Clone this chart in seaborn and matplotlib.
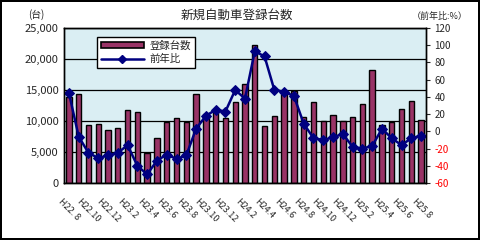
import numpy as np
import pandas as pd
import matplotlib
matplotlib.use("Agg")
import matplotlib.pyplot as plt
from matplotlib.patches import Patch
from matplotlib.lines import Line2D
import seaborn as sns

# 月 (H22.8 - H25.8)
months = ["H22. 8", "H22.9", "H22.10", "H22.11", "H22.12",
          "H23.1", "H23.2", "H23.3", "H23.4", "H23.5", "H23.6", "H23.7",
          "H23.8", "H23.9", "H23.10", "H23.11", "H23.12",
          "H24.1", "H24.2", "H24.3", "H24.4", "H24.5", "H24.6", "H24.7",
          "H24.8", "H24.9", "H24.10", "H24.11", "H24.12",
          "H25.1", "H25.2", "H25.3", "H25.4", "H25.5", "H25.6", "H25.7", "H25.8"]

# 登録台数
counts = [13900, 14300, 9400, 9500, 8600, 8900, 11700, 11500, 4800, 7300,
          9800, 10500, 9800, 14400, 11200, 11700, 10500, 13000, 16000, 22200,
          9200, 10800, 14400, 14800, 10600, 13100, 10000, 10900, 10000, 10600,
          12700, 18300, 9300, 9800, 11900, 13200, 10100]

# 前年比 (%)
yoy = [45, -6, -25, -31, -28, -25, -16, -40, -50, -34,
       -27, -32, -28, 3, 18, 25, 23, 48, 38, 93,
       87, 48, 46, 41, 9, -8, -10, -7, -3, -18,
       -20, -17, 3, -8, -16, -8, -5]

left_ticks = [0, 5000, 10000, 15000, 20000, 25000]
right_ticks = [-60, -40, -20, 0, 20, 40, 60, 80, 100, 120]

df = pd.DataFrame({"month": months, "count": counts, "yoy": yoy})

sns.set_style("white")
plt.rcParams["font.family"] = ["Noto Sans CJK JP", "DejaVu Sans"]

bar_color = "#993366"
line_color = "#000080"
bg_color = "#DAEEF3"

fig = plt.figure(figsize=(4.8, 2.4), dpi=100, edgecolor="black", linewidth=1.5)
ax = fig.add_axes([0.1333, 0.2375, 0.7542, 0.6458])
ax.set_facecolor(bg_color)

sns.barplot(data=df, x="month", y="count", ax=ax, color=bar_color,
            saturation=1, width=0.55, edgecolor="black", linewidth=1)
ax.set_axisbelow(True)
ax.yaxis.grid(True, color="black", linewidth=0.9)
ax.set_ylim(0, 25000)
ax.set_xlim(-0.5, len(months) - 0.5)
ax.set_yticks(left_ticks)
ax.set_yticklabels([f"{v:,}" for v in left_ticks], fontsize=8)
ax.set_xticks(range(len(months)))
ax.set_xticklabels([m if i % 2 == 0 else "" for i, m in enumerate(months)],
                   rotation=-45, ha="center", va="top", fontsize=6.5)
ax.tick_params(axis="x", length=3, width=0.8, pad=7)
ax.tick_params(axis="y", length=0, pad=4)
ax.set_xlabel("")
ax.set_ylabel("")

ax2 = ax.twinx()
sns.lineplot(data=df, x="month", y="yoy", ax=ax2, color=line_color,
             marker="D", markersize=5, markeredgecolor=line_color,
             linewidth=1.8, sort=False)
ax2.set_ylim(-60, 120)
ax2.set_yticks(right_ticks)
ax2.set_yticklabels([str(v) for v in right_ticks], fontsize=7)
for lab, v in zip(ax2.get_yticklabels(), right_ticks):
    if v < 0:
        lab.set_color("red")
ax2.tick_params(axis="y", length=3, width=0.8, pad=3)
ax2.set_ylabel("")

for a in (ax, ax2):
    for s in a.spines.values():
        s.set_color("black")
        s.set_linewidth(1)

handles = [Patch(facecolor=bar_color, edgecolor="black", linewidth=1.2),
           Line2D([], [], color=line_color, marker="D", markersize=4, linewidth=1.8)]
leg = ax2.legend(handles, ["登録台数", "前年比"], loc="upper left",
                 bbox_to_anchor=(0.202, 0.846), bbox_transform=fig.transFigure,
                 borderaxespad=0, fontsize=7.5, frameon=True, fancybox=False,
                 edgecolor="black", framealpha=1, handlelength=4.2,
                 handleheight=0.45, labelspacing=0.3, borderpad=0.35,
                 handletextpad=0.5)
leg.get_frame().set_linewidth(1)

fig.text(0.494, 0.9375, "新規自動車登録台数", ha="center", va="center", fontsize=9)
fig.text(0.075, 0.94, "(台)", ha="center", va="center", fontsize=7)
fig.text(0.915, 0.93, "（前年比:%）", ha="center", va="center", fontsize=6.5)

fig.savefig("out.png", dpi=100, edgecolor=fig.get_edgecolor())
